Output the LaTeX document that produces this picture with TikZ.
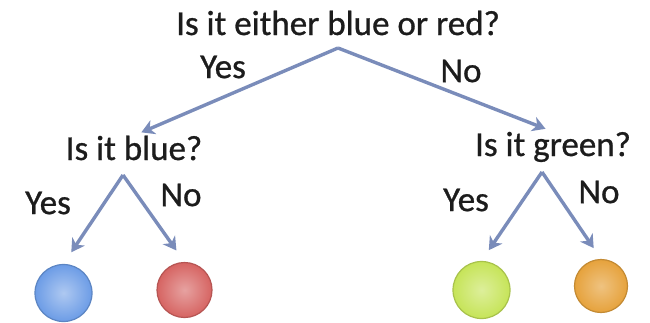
\documentclass[tikz,border=0pt]{standalone}
\usepackage{fontspec}
\setmainfont{Carlito}[FakeBold=0.8]
\usepackage{tikz}
\usetikzlibrary{arrows.meta}
\definecolor{arrowblue}{RGB}{122,140,186}
\definecolor{textgray}{RGB}{28,28,28}
\definecolor{ballblue}{RGB}{108,156,230}
\definecolor{ballred}{RGB}{214,100,98}
\definecolor{ballgreen}{RGB}{198,228,88}
\definecolor{ballorange}{RGB}{230,162,60}

\begin{document}
\begin{tikzpicture}[x=1pt, y=-1pt,
		question/.style={inner sep=0pt, anchor=base, text=textgray, font=\fontsize{35}{40}\selectfont},
		answer/.style={inner sep=0pt, text=textgray, font=\fontsize{35}{40}\selectfont},
		arr/.style={draw=arrowblue, line width=3.4pt, -{Stealth[length=13pt, width=15pt, inset=4pt]}},
		ball/.style={circle, inner sep=0pt, minimum size=#1, line width=1.2pt}]
		\useasboundingbox (0,0) rectangle (650,322);
%		questions
		\node[question] (either) at (338,35) {Is it either blue or red?};
		\node[question] (isblue) at (134,160) {Is it blue?};
		\node[question] (isgreen) at (553,156) {Is it green?};
		\coordinate (split1) at ([yshift=-13pt]either.base);
		\coordinate (split2) at ([xshift=-11pt, yshift=-15pt]isblue.base);
		\coordinate (split3) at ([xshift=-11pt, yshift=-16pt]isgreen.base);
%		balls
		\node[ball=57pt, draw=ballblue!85!black, inner color=ballblue!55!white, outer color=ballblue] (blueball) at (63.5,293) {};
		\node[ball=55pt, draw=ballred!85!black, inner color=ballred!60!white, outer color=ballred] (redball) at (184.5,290) {};
		\node[ball=57pt, draw=ballgreen!85!black, inner color=ballgreen!60!white, outer color=ballgreen] (greenball) at (481.5,290) {};
		\node[ball=53pt, draw=ballorange!85!black, inner color=ballorange!65!white, outer color=ballorange] (orangeball) at (601,286) {};
%		arrows
		\draw[arr, shorten >=8pt] (split1) -- (isblue.north);
		\draw[arr, shorten >=8pt] (split1) -- (isgreen.north);
		\draw[arr, shorten >=14pt] (split2) -- (blueball.north);
		\draw[arr, shorten >=14pt] (split2) -- (redball.north);
		\draw[arr, shorten >=13pt] (split3) -- (greenball.north);
		\draw[arr, shorten >=13pt] (split3) -- (orangeball.north);
%		labels
		\node[answer] (yes1) at (223,67) {Yes};
		\node[answer] (no1) at (461,71) {No};
		\node[answer] (yes2) at (48,203) {Yes};
		\node[answer] (no2) at (181,195) {No};
		\node[answer] (yes3) at (466,200) {Yes};
		\node[answer] (no3) at (599,192) {No};
\end{tikzpicture}
\end{document}
